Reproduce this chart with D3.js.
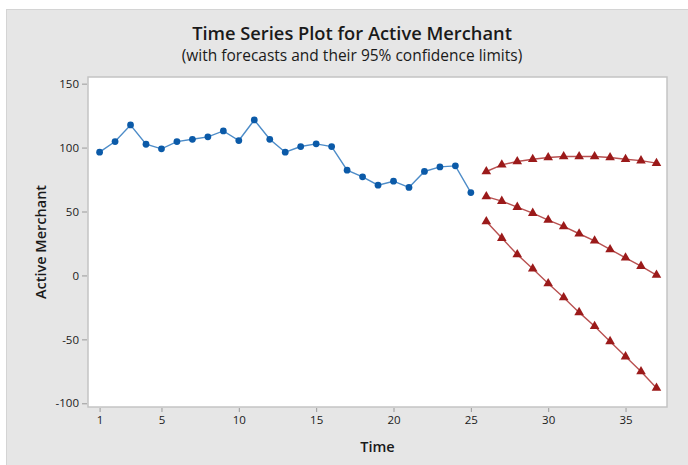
<!DOCTYPE html>
<html>
<head>
<meta charset="utf-8">
<script src="https://cdn.jsdelivr.net/npm/d3@7"></script>
<style>
  html, body { margin: 0; padding: 0; background: #ffffff; }
  svg { display: block; }
  text { font-family: "Open Sans", "Noto Sans", sans-serif; fill: #1a1a1a; }
</style>
</head>
<body>
<svg id="chart" width="688" height="465"></svg>
<script>
// Observed series (time 1..25)
const observedTime = d3.range(1, 26);
const observedValues = [96.4, 104.7, 117.7, 102.6, 99.0, 104.7, 106.5, 108.4, 113.0, 105.5,
                        121.6, 106.5, 96.4, 100.8, 102.9, 100.8, 82.3, 77.1, 70.6, 73.7,
                        68.8, 81.3, 84.9, 85.7, 64.8];

// Forecast horizon (time 26..37)
const forecastTime = d3.range(26, 38);
const forecastValues = [61.7, 58.1, 53.4, 48.7, 43.3, 38.3, 32.6, 27.1, 20.3, 13.8, 7.3, 0.3];
const upperLimits    = [81.3, 86.5, 89.1, 90.9, 92.2, 93.0, 93.0, 93.0, 92.2, 90.9, 89.8, 87.8];
const lowerLimits    = [42.2, 29.2, 16.4, 5.2, -6.3, -17.2, -28.9, -39.8, -51.6, -63.5, -75.2, -88.0];

const xTicks = [1, 5, 10, 15, 20, 25, 30, 35];
const yTicks = [-100, -50, 0, 50, 100, 150];

const titleText = "Time Series Plot for Active Merchant";
const subtitleText = "(with forecasts and their 95% confidence limits)";
const xLabel = "Time";
const yLabel = "Active Merchant";

const W = 688, H = 465;
const plot = { left: 88, top: 77, right: 667, bottom: 407 };

const svg = d3.select("#chart");

// Figure background panel
svg.append("rect")
  .attr("x", 6).attr("y", 9)
  .attr("width", W - 6).attr("height", H - 9)
  .attr("fill", "#e6e6e6");
svg.append("line")
  .attr("x1", 6).attr("x2", W).attr("y1", 9.5).attr("y2", 9.5)
  .attr("stroke", "#d4d4d4");
svg.append("line")
  .attr("x1", 6.5).attr("x2", 6.5).attr("y1", 9).attr("y2", H)
  .attr("stroke", "#d4d4d4");

const x = d3.scaleLinear().domain([0.25, 37.68]).range([plot.left, plot.right]);
const y = d3.scaleLinear().domain([-102.9, 155.2]).range([plot.bottom, plot.top]);

// Plot area
svg.append("rect")
  .attr("x", plot.left).attr("y", plot.top)
  .attr("width", plot.right - plot.left).attr("height", plot.bottom - plot.top)
  .attr("fill", "#ffffff")
  .attr("stroke", "#c4c4c4").attr("stroke-width", 1.5);

// Titles
svg.append("text")
  .attr("x", 352).attr("y", 40)
  .attr("text-anchor", "middle")
  .attr("font-size", 18.3).attr("font-weight", 600)
  .text(titleText);
svg.append("text")
  .attr("x", 352).attr("y", 61)
  .attr("text-anchor", "middle")
  .attr("font-size", 15.5)
  .text(subtitleText);

// Axes
const plainNumber = d => String(d);
const xAxis = svg.append("g")
  .attr("transform", `translate(0,${plot.bottom + 1})`)
  .call(d3.axisBottom(x).tickValues(xTicks).tickFormat(plainNumber).tickSize(4).tickPadding(4));
const yAxis = svg.append("g")
  .attr("transform", `translate(${plot.left - 1},0)`)
  .call(d3.axisLeft(y).tickValues(yTicks).tickFormat(plainNumber).tickSize(5).tickPadding(3));

[xAxis, yAxis].forEach(g => {
  g.select(".domain").remove();
  g.selectAll(".tick line").attr("stroke", "#9a9a9a");
  g.selectAll(".tick text")
    .attr("font-family", '"Open Sans", "Noto Sans", sans-serif')
    .attr("font-size", 11.5).attr("fill", "#1a1a1a");
});

svg.append("text")
  .attr("x", (plot.left + plot.right) / 2).attr("y", 452)
  .attr("text-anchor", "middle")
  .attr("font-size", 14.5).attr("font-weight", 600)
  .text(xLabel);
svg.append("text")
  .attr("transform", `translate(46,${(plot.top + plot.bottom) / 2}) rotate(-90)`)
  .attr("text-anchor", "middle")
  .attr("font-size", 14.5).attr("font-weight", 600)
  .text(yLabel);

// Series drawing helpers
const line = d3.line().x(d => x(d[0])).y(d => y(d[1]));

function drawSeries(times, values, lineColor, markerColor, symbol, size) {
  const pts = times.map((t, i) => [t, values[i]]);
  svg.append("path")
    .datum(pts)
    .attr("d", line)
    .attr("fill", "none")
    .attr("stroke", lineColor)
    .attr("stroke-width", 1.4);
  svg.append("g")
    .selectAll("path")
    .data(pts)
    .join("path")
    .attr("transform", d => `translate(${x(d[0])},${y(d[1])})`)
    .attr("d", d3.symbol().type(symbol).size(size))
    .attr("fill", markerColor);
}

drawSeries(observedTime, observedValues, "#4d8cc8", "#0b5aa8", d3.symbolCircle, 36);
drawSeries(forecastTime, upperLimits, "#b85050", "#9b1a1a", d3.symbolTriangle, 40);
drawSeries(forecastTime, forecastValues, "#b85050", "#9b1a1a", d3.symbolTriangle, 40);
drawSeries(forecastTime, lowerLimits, "#b85050", "#9b1a1a", d3.symbolTriangle, 40);
</script>
</body>
</html>
